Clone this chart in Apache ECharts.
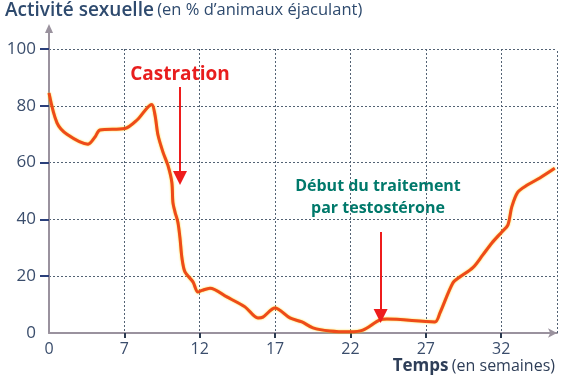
<!DOCTYPE html>
<html><head><meta charset="utf-8">
<script src="https://cdn.jsdelivr.net/npm/echarts@6/dist/echarts.min.js"></script>
<style>html,body{margin:0;padding:0;background:#fff}#c{width:561px;height:387px}</style>
</head><body><div id="c"></div>
<script>
// x positions in axis units (one grid step = 5 units), tick labels map to weeks
const xTickPos = [0, 5, 10, 15, 20, 25, 30];
const xTickLabels = ['0', '7', '12', '17', '22', '27', '32'];
const yTicks = [20, 40, 60, 80, 100];
const xVals = [0, 0.53, 1.19, 2.59, 3.05, 3.38, 5.04, 5.84, 6.81, 7.03, 7.23, 7.56, 7.89, 8.15, 8.22, 8.36, 8.55, 8.69, 8.82, 9.02, 9.55, 9.88, 10.15, 10.68, 11.80, 13.0, 13.86, 14.19, 14.99, 15.98, 16.78, 17.51, 18.63, 19.96, 20.82, 21.95, 22.41, 25.6, 25.93, 26.79, 27.25, 28.12, 28.78, 29.38, 30.04, 30.44, 30.70, 31.10, 31.70, 32.56, 33.55];
const yVals = [84.5, 74, 70, 66.5, 69, 71.5, 72, 75, 80.5, 76.8, 69.7, 63.7, 59, 53, 46, 42.6, 39, 33.4, 26.4, 21.5, 18, 14.4, 15, 15.8, 12.7, 9.2, 5.3, 5.6, 8.8, 5.3, 3.9, 1.8, 0.7, 0.4, 1, 4.6, 4.9, 3.9, 7, 17.6, 19.7, 23, 27.5, 31.7, 35.6, 38, 44.4, 49.6, 52, 54.6, 58];
const castrationArrow = {x: 8.69, from: 86.6, to: 54.6};
const testoArrow = {x: 22.0, from: 35.6, to: 6};
const xMax = 33.7;

const axisGrey = '#9a929e';
const gridCol = '#536274';
const labelCol = '#3a4d6c';
const font = 'Open Sans';

const chart = echarts.init(document.getElementById('c'));
chart.setOption({
  animation: false,
  grid: {left: 49, right: 4, top: 49, bottom: 54},
  xAxis: {
    type: 'value', min: 0, max: xMax, interval: 5,
    axisLine: {lineStyle: {color: axisGrey, width: 2}, symbol: ['none', 'arrow'], symbolSize: [7, 9]},
    axisTick: {customValues: xTickPos.slice(1), length: 5, inside: false, lineStyle: {color: '#2a3a50', width: 2}},
    axisLabel: {customValues: xTickPos, formatter: v => xTickLabels[xTickPos.indexOf(Math.round(v))] ?? '', color: labelCol, fontSize: 16, fontFamily: font, margin: 8},
    splitLine: {show: true, lineStyle: {color: gridCol, type: [2, 2], width: 1}}
  },
  yAxis: {
    type: 'value', min: 0, max: 100, interval: 20,
    axisLine: {show: true, lineStyle: {color: axisGrey, width: 2}},
    axisTick: {show: true, customValues: yTicks, length: 9, lineStyle: {color: '#2a3f7a', width: 2}},
    axisLabel: {color: labelCol, fontSize: 17, fontFamily: font, margin: 13},
    splitLine: {show: true, lineStyle: {color: gridCol, type: [2, 2], width: 1}}
  },
  series: [{
    type: 'line', smooth: 0.3, symbol: 'none',
    data: xVals.map((x, i) => [x, yVals[i]]),
    lineStyle: {color: '#ee4a1a', width: 3, shadowColor: 'rgba(255,210,0,0.9)', shadowBlur: 2},
    markLine: {
      silent: true, animation: false,
      label: {show: false},
      data: [
        [{coord: [castrationArrow.x, castrationArrow.from], symbol: 'none'}, {coord: [castrationArrow.x, castrationArrow.to], symbol: 'triangle', symbolSize: [14, 14], symbolRotate: 180}],
        [{coord: [testoArrow.x, testoArrow.from], symbol: 'none'}, {coord: [testoArrow.x, testoArrow.to], symbol: 'triangle', symbolSize: [14, 14], symbolRotate: 180}],
        [{coord: [xMax, 0], symbol: 'none', lineStyle: {color: gridCol, type: [2, 2], width: 1}}, {coord: [xMax, 100], symbol: 'none'}]
      ],
      lineStyle: {color: '#ee1c1c', width: 2, type: 'solid'}
    }
  }],
  graphic: [
    {type: 'line', shape: {x1: 49, y1: 49, x2: 49, y2: 30}, style: {stroke: axisGrey, lineWidth: 2}},
    {type: 'polygon', shape: {points: [[45, 33], [53, 33], [49, 24]]}, style: {fill: axisGrey}},
    {type: 'text', left: 5, top: 1, style: {rich: {
      b: {fontSize: 19, fontWeight: 600, fill: '#2e4a6e', fontFamily: font},
      n: {fontSize: 16.5, fill: '#2e4a6e', fontFamily: font}
    }, text: '{b|Activité sexuelle} {n|(en % d’animaux éjaculant)}'}},
    {type: 'text', right: 6, top: 358, style: {rich: {
      b: {fontSize: 17, fontWeight: 'bold', fill: '#2e3e58', fontFamily: font},
      n: {fontSize: 16, fill: '#2e3e58', fontFamily: font}
    }, text: '{b|Temps} {n|(en semaines)}'}},
    {type: 'text', x: 180, y: 75, style: {text: 'Castration', fill: '#e81e1e', fontSize: 19, fontWeight: 'bold', fontFamily: font, align: 'center', verticalAlign: 'middle'}},
    {type: 'text', x: 378, y: 186, style: {text: 'Début du traitement', fill: '#00796b', fontSize: 16, fontWeight: 'bold', fontFamily: font, align: 'center', verticalAlign: 'middle'}},
    {type: 'text', x: 378, y: 208, style: {text: 'par testostérone', fill: '#00796b', fontSize: 16, fontWeight: 'bold', fontFamily: font, align: 'center', verticalAlign: 'middle'}}
  ]
});
</script></body></html>
